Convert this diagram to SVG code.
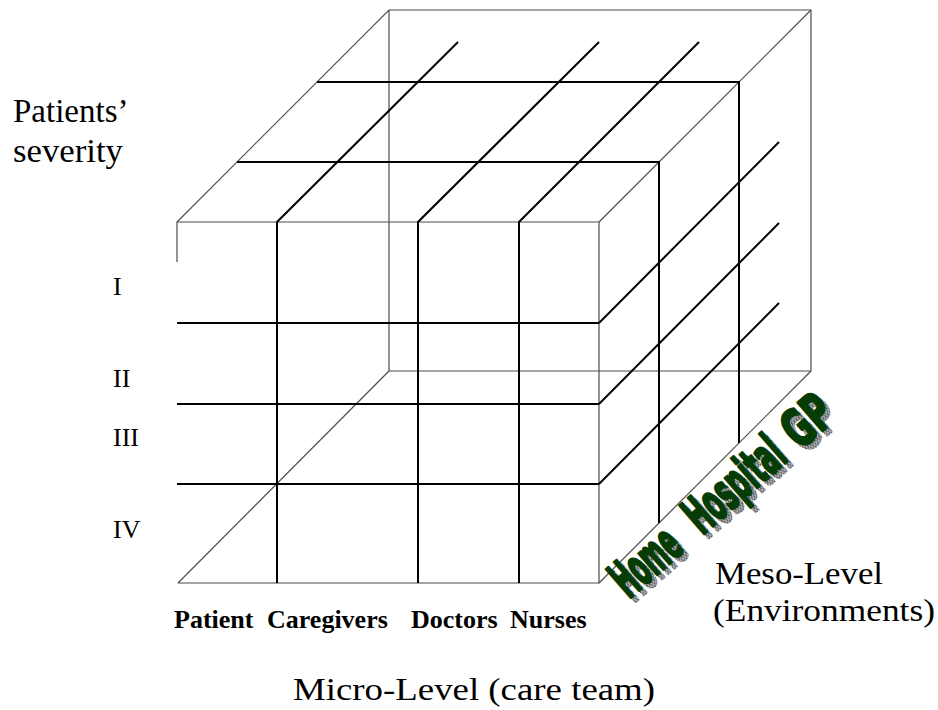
<svg xmlns="http://www.w3.org/2000/svg" width="938" height="710" viewBox="0 0 938 710">
<style>
.edge{stroke:#4d4d4d;stroke-width:1.2;fill:none}
.grid{stroke:#000;stroke-width:2;fill:none}
.serif{font-family:'Liberation Serif','Times New Roman',serif;fill:#000}
.bold{font-weight:bold}
</style>
<defs>
<pattern id="dots" width="3" height="3" patternUnits="userSpaceOnUse">
<rect width="3" height="3" fill="#bdbdbd"/>
<rect width="1.5" height="1.5" fill="#4a4a4a"/>
<rect x="1.5" y="1.5" width="1.5" height="1.5" fill="#6a6a6a"/>
</pattern>
<g id="wa" transform="scale(1,1.85)" font-family="'Liberation Sans Narrow','DejaVu Sans Condensed',sans-serif" font-weight="bold" font-size="28" stroke-width="1.4" stroke-linejoin="round">
<text x="0" y="0" textLength="75" lengthAdjust="spacingAndGlyphs">Home</text>
<text x="97" y="0" textLength="116" lengthAdjust="spacingAndGlyphs">Hospital</text>
<text x="227" y="0" textLength="50" lengthAdjust="spacingAndGlyphs">GP</text>
</g>
</defs>
<rect width="938" height="710" fill="#fff"/>

<g id="cube-edges" class="edge">
<path d="M177,262 V222 H599 V583 H178"/>
<path d="M177,222 L389,10 H811 V371 H389 V10"/>
<path d="M599,222 L811,10"/>
<path d="M599,583 L811,371"/>
<path d="M178,583 L389,371"/>
</g>

<g id="connectors" class="grid">
<path d="M177,323 H599 M177,404 H599 M177,484 H599"/>
<path d="M277,583 V222 L458,42 M418,583 V222 L599,42 M519,583 V222 L699,42"/>
<path d="M599,323 L779,142 M599,404 L779,223 M599,484 L779,303"/>
<path d="M237,162 H659 V523 M317,82 H739 V443"/>
</g>

<g id="axis-severity">
<text class="serif" x="13" y="122" font-size="33">Patients’</text>
<text class="serif" x="13" y="162" font-size="33" textLength="110" lengthAdjust="spacingAndGlyphs">severity</text>
<text class="serif" x="113" y="295" font-size="26">I</text>
<text class="serif" x="113" y="387" font-size="26">II</text>
<text class="serif" x="113" y="446" font-size="26">III</text>
<text class="serif" x="113" y="538" font-size="26">IV</text>
</g>

<g id="axis-micro">
<text class="serif bold" x="174" y="628" font-size="26">Patient</text>
<text class="serif bold" x="267" y="628" font-size="26">Caregivers</text>
<text class="serif bold" x="411" y="628" font-size="26">Doctors</text>
<text class="serif bold" x="510" y="628" font-size="26">Nurses</text>
<text class="serif" x="293" y="700" font-size="32" textLength="362" lengthAdjust="spacingAndGlyphs">Micro-Level (care team)</text>
</g>

<g id="axis-meso">
<g transform="translate(633.5,603.5) rotate(-41)"><use href="#wa" fill="url(#dots)" stroke="url(#dots)"/></g>
<g transform="translate(628.7,599.5) rotate(-41)"><use href="#wa" fill="#063d06" stroke="#063d06"/></g>
<text class="serif" x="715" y="584" font-size="31" textLength="168" lengthAdjust="spacingAndGlyphs">Meso-Level</text>
<text class="serif" x="713" y="621" font-size="31" textLength="222" lengthAdjust="spacingAndGlyphs">(Environments)</text>
</g>
</svg>
